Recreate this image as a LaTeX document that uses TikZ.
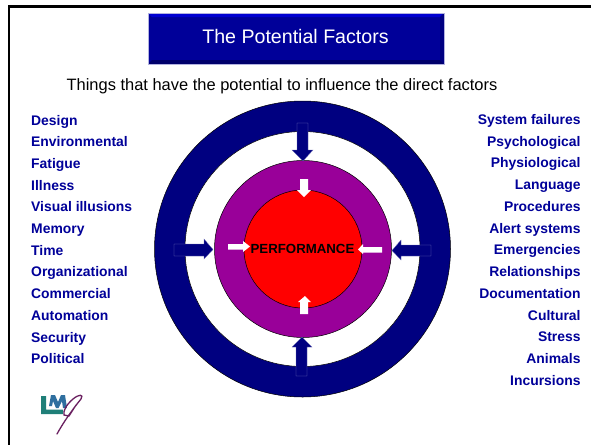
\documentclass[tikz,border=0pt]{standalone}
\usepackage{fontspec}
\setmainfont{Liberation Sans}
\definecolor{navy}{HTML}{000080}
\definecolor{titleblue}{HTML}{000099}
\definecolor{labelblue}{HTML}{000099}
\definecolor{plum}{HTML}{990099}
\definecolor{logoteal}{HTML}{1F7F78}
\definecolor{logoblue}{HTML}{2F6F9F}
\definecolor{logoplum}{HTML}{6A2060}
\tikzset{
  x=1pt,y=-1pt,
  ring/.style={circle,draw=black,line width=0.5pt,minimum size=#1,inner sep=0pt},
  blueArrow/.style={fill=navy,draw=white!45!navy,line width=0.3pt},
  whiteArrow/.style={fill=white,draw=none},
  leftlabel/.style={anchor=base west,font=\bfseries\fontsize{13.9}{16}\selectfont,text=labelblue,inner sep=0pt},
  rightlabel/.style={anchor=base east,font=\bfseries\fontsize{13.9}{16}\selectfont,text=labelblue,inner sep=0pt},
}
\begin{document}
\begin{tikzpicture}
\useasboundingbox (0,0) rectangle (591,445);
\fill[white] (0,0) rectangle (591,445);
% frame
\fill[black] (7.5,5) rectangle (591,8);
\fill[black] (7.5,5) rectangle (10,445);
% title
\fill[titleblue] (148,13) rectangle (444,64);
\fill[blue!55!titleblue] (148,13) -- (444,13) -- (440,17) -- (152,17) -- cycle;
\fill[black!30!titleblue] (148,64) -- (444,64) -- (440,60) -- (152,60) -- cycle;
\fill[black!15!titleblue] (444,13) -- (444,64) -- (440,60) -- (440,17) -- cycle;
\draw[white!70!titleblue,line width=0.5pt] (148,13) rectangle (444,64);
\node[text=white,font=\fontsize{19.6}{22}\selectfont,inner sep=0pt] (title) at (295.5,36) {The Potential Factors};
\node[anchor=base,text=black,font=\fontsize{16.45}{18}\selectfont,inner sep=0pt] (sub) at (282,90) {Things that have the potential to influence the direct factors};
% rings
\node[ring=296pt,fill=navy] (outer) at (302.5,249) {};
\node[ring=235pt,fill=white] (gap) at (302.5,249) {};
\node[ring=177pt,fill=plum] (mid) at (303,249) {};
\node[ring=118pt,fill=red] (core) at (303,249) {};
\node[font=\bfseries\fontsize{13.25}{15}\selectfont,text=black,inner sep=0pt] (perf) at (302.5,249) {PERFORMANCE};
% blue arrows
\draw[blueArrow] (297,123) -- (308,123) -- (308,150) -- (313,150) -- (303,161) -- (292,150) -- (297,150) -- cycle;
\draw[blueArrow] (296,376) -- (307,376) -- (307,347) -- (312,347) -- (302,337) -- (292,347) -- (296,347) -- cycle;
\draw[blueArrow] (174,244) -- (204,244) -- (204,239) -- (213,249.5) -- (204,259) -- (204,256) -- (174,256) -- cycle;
\draw[blueArrow] (431,245) -- (401,245) -- (401,240) -- (392,250.5) -- (401,260) -- (401,256) -- (431,256) -- cycle;
% white arrows
\fill[whiteArrow] (300,179) -- (308,179) -- (308,190) -- (311,190) -- (304,197) -- (297,190) -- (300,190) -- cycle;
\fill[whiteArrow] (300,314) -- (308,314) -- (308,302) -- (311,302) -- (305,296) -- (298,302) -- (300,302) -- cycle;
\fill[whiteArrow] (228,244) -- (243,244) -- (243,241) -- (250,246.5) -- (243,252) -- (243,249.5) -- (228,249.5) -- cycle;
\fill[whiteArrow] (382,247) -- (363,247) -- (363,244) -- (358,249.5) -- (363,254) -- (363,252.5) -- (382,252.5) -- cycle;
% left labels
\foreach \t [count=\i from 0] in {Design,Environmental,Fatigue,Illness,Visual illusions,Memory,Time,Organizational,Commercial,Automation,Security,Political}
  \node[leftlabel] (l\i) at (31,{125+21.71*\i}) {\t};
% right labels
\foreach \t [count=\i from 0] in {System failures,Psychological,Physiological,Language,Procedures,Alert systems,Emergencies,Relationships,Documentation,Cultural,Stress,Animals,Incursions}
  \node[rightlabel] (r\i) at (580.7,{124.5+21.73*\i}) {\t};
% logo
\fill[logoteal] (41,414) -- (41,396) -- (46,396) -- (46,409.5) -- (63,409.5) -- (63,414) -- cycle;
\fill[logoblue] (49,406) -- (51,395) -- (55,395) -- (58,402) -- (61,395) -- (65,395) -- (67,408) -- (63,408) -- (62,401) -- (58.5,408) -- (56,408) -- (53,401) -- (52,406) -- cycle;
\draw[logoplum,line width=1.3pt,line cap=round] (57,434) .. controls (63,423) and (72,410) .. (81,399) .. controls (84,394) and (79,394) .. (73,399) .. controls (66,405) and (63,411) .. (64,415) -- (69,416) -- (76,405);
\end{tikzpicture}
\end{document}
